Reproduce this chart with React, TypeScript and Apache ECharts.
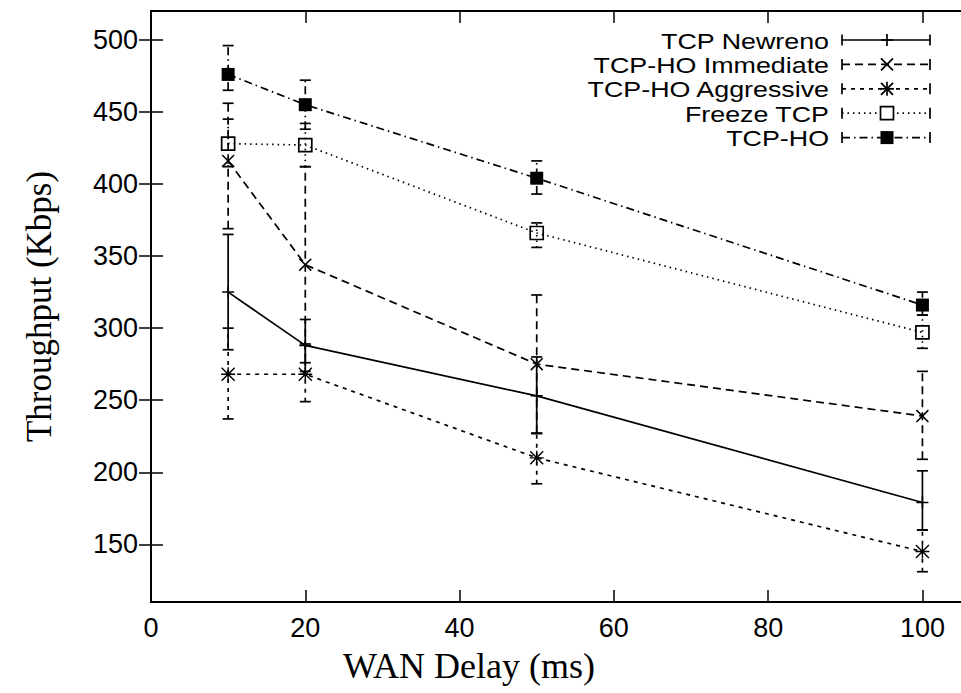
import React, { useEffect, useRef } from 'react';
import * as echarts from 'echarts';

const delays = [10, 20, 50, 100];
const seriesNames = ['TCP Newreno', 'TCP-HO Immediate', 'TCP-HO Aggressive', 'Freeze TCP', 'TCP-HO'];

const newrenoMean = [325, 288, 253, 179];
const newrenoLow = [285, 270, 227, 160];
const newrenoHigh = [365, 306, 280, 201];

const immediateMean = [416, 344, 275, 239];
const immediateLow = [369, 276, 227, 209];
const immediateHigh = [456, 412, 323, 270];

const aggressiveMean = [268, 268, 210, 145];
const aggressiveLow = [237, 249, 192, 131];
const aggressiveHigh = [300, 289, 227, 160];

const freezeMean = [428, 427, 366, 297];
const freezeLow = [412, 412, 356, 286];
const freezeHigh = [445, 442, 373, 309];

const hoMean = [476, 455, 404, 316];
const hoLow = [465, 438, 393, 309];
const hoHigh = [496, 472, 416, 325];

const xTicks = [0, 20, 40, 60, 80, 100];
const yTicks = [150, 200, 250, 300, 350, 400, 450, 500];

const means = [newrenoMean, immediateMean, aggressiveMean, freezeMean, hoMean];
const lows = [newrenoLow, immediateLow, aggressiveLow, freezeLow, hoLow];
const highs = [newrenoHigh, immediateHigh, aggressiveHigh, freezeHigh, hoHigh];

const dashes: (number[] | null)[] = [null, [8, 5], [4, 5], [1.5, 4], [8, 4, 1.5, 4]];

const PLUS = 'path://M10.5,0H13.5V10.5H24V13.5H13.5V24H10.5V13.5H0V10.5H10.5Z';
const CROSS = 'path://M0,2L2,0L24,22L22,24ZM22,0L24,2L2,24L0,22Z';
const STAR = 'path://M10.8,0H13.2V10.8H24V13.2H13.2V24H10.8V13.2H0V10.8H10.8ZM1.7,0L24,22.3L22.3,24L0,1.7ZM22.3,0L24,1.7L1.7,24L0,22.3Z';

const LW = 1.7;

const symbols = [PLUS, CROSS, STAR, 'rect', 'rect'];
const symbolSizes = [12, 13, 14, 13, 13];

function legendMarker(i: number, cx: number, cy: number): any[] {
  const st = { stroke: '#000', lineWidth: LW };
  const s = 6;
  if (i === 0) {
    return [
      { type: 'line', shape: { x1: cx - 6, y1: cy, x2: cx + 6, y2: cy }, style: st },
      { type: 'line', shape: { x1: cx, y1: cy - 6, x2: cx, y2: cy + 6 }, style: st },
    ];
  }
  if (i === 1) {
    return [
      { type: 'line', shape: { x1: cx - s, y1: cy - s, x2: cx + s, y2: cy + s }, style: st },
      { type: 'line', shape: { x1: cx - s, y1: cy + s, x2: cx + s, y2: cy - s }, style: st },
    ];
  }
  if (i === 2) {
    return [
      { type: 'line', shape: { x1: cx - s, y1: cy - s, x2: cx + s, y2: cy + s }, style: st },
      { type: 'line', shape: { x1: cx - s, y1: cy + s, x2: cx + s, y2: cy - s }, style: st },
      { type: 'line', shape: { x1: cx - 7, y1: cy, x2: cx + 7, y2: cy }, style: st },
      { type: 'line', shape: { x1: cx, y1: cy - 7, x2: cx, y2: cy + 7 }, style: st },
    ];
  }
  if (i === 3) {
    return [{ type: 'rect', shape: { x: cx - 6.5, y: cy - 6.5, width: 13, height: 13 }, style: { fill: '#fff', stroke: '#000', lineWidth: LW } }];
  }
  return [{ type: 'rect', shape: { x: cx - 6.5, y: cy - 6.5, width: 13, height: 13 }, style: { fill: '#000' } }];
}

export default function App() {
  const ref = useRef<HTMLDivElement>(null);
  useEffect(() => {
    if (!ref.current) return;
    const chart = echarts.init(ref.current, null, { renderer: 'svg' });

    const series: any[] = [];
    seriesNames.forEach((name, i) => {
      const dash = dashes[i];
      series.push({
        name: name + ' err',
        type: 'custom',
        data: delays.map((d, k) => [d, lows[i][k], highs[i][k]]),
        encode: { x: 0, y: [1, 2] },
        z: 2 + i,
        renderItem: (params: any, api: any) => {
          const x = api.value(0);
          const lo = api.coord([x, api.value(1)]);
          const hi = api.coord([x, api.value(2)]);
          const style: any = { stroke: '#000', lineWidth: LW, fill: 'none' };
          if (dash) style.lineDash = dash;
          const cw = 5.5;
          return {
            type: 'group',
            children: [
              { type: 'line', shape: { x1: lo[0], y1: lo[1], x2: hi[0], y2: hi[1] }, style },
              { type: 'line', shape: { x1: hi[0] - cw, y1: hi[1], x2: hi[0] + cw, y2: hi[1] }, style: { stroke: '#000', lineWidth: LW } },
              { type: 'line', shape: { x1: lo[0] - cw, y1: lo[1], x2: lo[0] + cw, y2: lo[1] }, style: { stroke: '#000', lineWidth: LW } },
            ],
          };
        },
      });
      const isOpen = i === 3;
      series.push({
        name,
        type: 'line',
        data: delays.map((d, k) => [d, means[i][k]]),
        symbol: symbols[i],
        symbolSize: symbolSizes[i],
        showSymbol: true,
        z: 3 + i,
        lineStyle: { color: '#000', width: LW, type: dash ? dash : 'solid' },
        itemStyle: isOpen
          ? { color: 'rgba(0,0,0,0)', borderColor: '#000', borderWidth: LW }
          : { color: '#000', borderWidth: 0 },
        emphasis: { disabled: true },
      });
    });

    const legendGraphics: any[] = [];
    seriesNames.forEach((name, i) => {
      const cy = 40 + i * 24.4;
      const dash = dashes[i];
      const ls: any = { stroke: '#000', lineWidth: LW };
      if (dash) ls.lineDash = dash;
      legendGraphics.push({
        type: 'text',
        x: 829,
        y: cy + 1,
        scaleX: 1.22,
        style: { text: name, fill: '#000', font: '22px "Liberation Sans"', textAlign: 'right', textVerticalAlign: 'middle' },
      });
      legendGraphics.push({ type: 'line', shape: { x1: 842, y1: cy, x2: 930, y2: cy }, style: ls });
      legendGraphics.push({ type: 'line', shape: { x1: 842, y1: cy - 5.5, x2: 842, y2: cy + 5.5 }, style: { stroke: '#000', lineWidth: LW } });
      legendGraphics.push({ type: 'line', shape: { x1: 930, y1: cy - 5.5, x2: 930, y2: cy + 5.5 }, style: { stroke: '#000', lineWidth: LW } });
      legendMarker(i, 887, cy).forEach((m) => legendGraphics.push(m));
    });

    const axisLine = { show: true, lineStyle: { color: '#000', width: 2 } };
    const tickFont = { color: '#000', fontFamily: 'Liberation Sans', fontSize: 27 };

    chart.setOption({
      animation: false,
      backgroundColor: '#fff',
      grid: { left: 151, top: 11, right: -3, bottom: 91, containLabel: false },
      xAxis: [
        {
          type: 'value', min: 0, max: 105, position: 'bottom',
          axisLine, splitLine: { show: false },
          axisTick: { show: true, inside: true, length: 12, customValues: xTicks, lineStyle: { color: '#000', width: 1.5 } },
          axisLabel: { ...tickFont, margin: 12, customValues: xTicks },
        },
        {
          type: 'value', min: 0, max: 105, position: 'top',
          axisLine, splitLine: { show: false },
          axisTick: { show: true, inside: true, length: 12, customValues: xTicks, lineStyle: { color: '#000', width: 1.5 } },
          axisLabel: { show: false },
        },
      ],
      yAxis: [
        {
          type: 'value', min: 110, max: 520, position: 'left',
          axisLine, splitLine: { show: false },
          axisTick: { show: true, inside: true, length: 12, customValues: yTicks, lineStyle: { color: '#000', width: 1.5 } },
          axisLabel: { ...tickFont, margin: 13, customValues: yTicks },
          name: 'Throughput (Kbps)', nameLocation: 'middle', nameRotate: 90, nameGap: 94,
          nameTextStyle: { color: '#000', fontFamily: 'Liberation Serif', fontSize: 35 },
        },
        {
          type: 'value', min: 110, max: 520, position: 'right',
          axisLine, splitLine: { show: false },
          axisTick: { show: true, inside: true, length: 12, customValues: yTicks, lineStyle: { color: '#000', width: 1.5 } },
          axisLabel: { show: false },
        },
      ],
      series,
      graphic: [
        ...legendGraphics,
        {
          type: 'text', x: 469, y: 666,
          style: { text: 'WAN Delay (ms)', fill: '#000', font: '36px "Liberation Serif"', textAlign: 'center', textVerticalAlign: 'middle' },
        },
      ],
    });
    return () => chart.dispose();
  }, []);
  return <div ref={ref} style={{ position: 'absolute', left: 0, top: 0, width: 961, height: 693 }} />;
}
